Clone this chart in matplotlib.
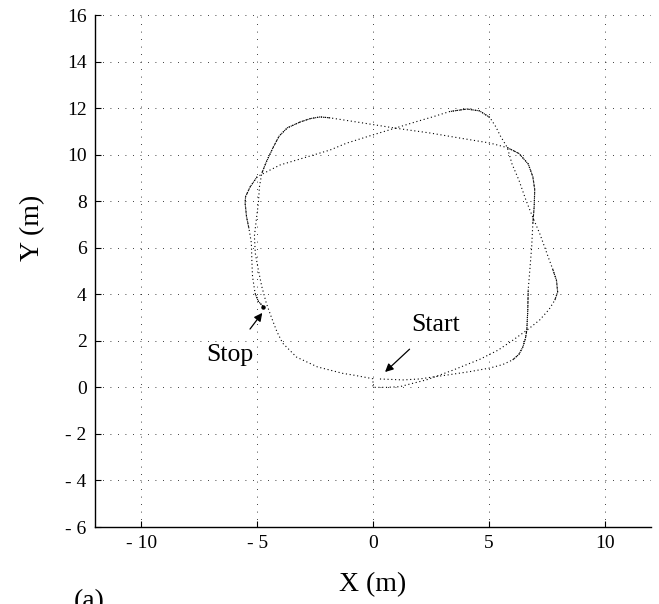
import matplotlib
matplotlib.use("Agg")
import matplotlib.pyplot as plt
import numpy as np

plt.rcParams['font.family'] = ['Liberation Serif', 'DejaVu Serif']

# ---- data: robot trajectory (two laps) ----
lap1_x = [0.3, 1.3, 2.0, 2.76, 3.2, 4.2, 5.04, 5.6, 6.03, 6.3, 6.47, 6.58, 6.64, 6.68, 6.7,
          6.77, 6.85, 6.9, 6.96, 6.98, 6.9, 6.7, 6.3, 5.8, 5.04, 3.7, 2.46, 1.02, -0.43, -1.85,
          -2.28, -2.7, -3.15, -3.7, -4.05, -4.3, -4.6, -4.8, -4.9, -4.95, -5.02, -5.12, -5.08,
          -4.95, -4.8, -4.6, -4.37, -4.15, -3.9, -3.3, -2.4, -1.3, -0.86, 0.0]
lap1_y = [0.36, 0.32, 0.36, 0.47, 0.53, 0.68, 0.83, 0.98, 1.18, 1.42, 1.74, 2.1, 2.47, 3.3, 4.2,
          5.05, 6.05, 7.05, 7.8, 8.5, 9.05, 9.6, 10.05, 10.3, 10.5, 10.72, 10.93, 11.13, 11.36, 11.58,
          11.62, 11.55, 11.4, 11.15, 10.8, 10.33, 9.7, 9.2, 8.63, 7.91, 7.34, 6.5, 5.76,
          5.05, 4.33, 3.6, 2.97, 2.4, 1.9, 1.3, 0.88, 0.6, 0.53, 0.37]

lap2_x = [0.0, 0.59, 1.16, 1.74, 2.3, 2.8, 3.4, 4.6, 5.4, 6.0, 6.7, 7.2, 7.6, 7.85, 7.97, 7.92,
          7.75, 7.6, 7.2, 6.9, 6.6, 6.3, 6.0, 5.8, 5.5, 5.3, 5.04, 4.6, 4.05, 3.3, 2.6, 1.88, 1.16,
          0.0, -1.15, -1.85, -3.29, -4.0, -4.44, -5.0, -5.3, -5.5, -5.52, -5.46, -5.35, -5.25,
          -5.23, -5.2, -5.09, -4.94, -4.73]
lap2_y = [0.0, 0.0, 0.03, 0.18, 0.32, 0.5, 0.72, 1.2, 1.6, 2.0, 2.5, 2.9, 3.35, 3.75, 4.1, 4.6,
          5.1, 5.5, 6.6, 7.3, 8.05, 8.9, 9.6, 10.3, 10.8, 11.2, 11.6, 11.88, 11.96, 11.85, 11.63, 11.42, 11.2,
          10.85, 10.49, 10.2, 9.77, 9.56, 9.34, 9.05, 8.62, 8.2, 7.92, 7.34, 6.8, 6.2,
          5.47, 4.76, 4.04, 3.68, 3.47]

xticks = [-10, -5, 0, 5, 10]
xticklabels = ['- 10', '- 5', '0', '5', '10']
yticks = [-6, -4, -2, 0, 2, 4, 6, 8, 10, 12, 14, 16]
yticklabels = ['- 6', '- 4', '- 2', '0', '2', '4', '6', '8', '10', '12', '14', '16']

start_label = 'Start'
stop_label = 'Stop'

# ---- figure ----
W, H = 659, 604
fig = plt.figure(figsize=(W / 100, H / 100), dpi=100)
ax = fig.add_axes([95 / W, 77 / H, 556 / W, 512 / H])
ax.set_xlim(-12, 12)
ax.set_ylim(-6, 16)

path_x = np.array(lap1_x + lap2_x)
path_y = np.array(lap1_y + lap2_y)
ax.plot(path_x, path_y, color='black', linewidth=0.8,
        linestyle=(0, (1, 2.4)), solid_capstyle='butt', zorder=3)

# slower parts of the run (dots closer together)
n1 = len(lap1_x)
dense = [(8, 15), (17, 24), (29, 38), (n1 + 26, n1 + 30), (n1 + 13, n1 + 17),
         (n1 + 39, n1 + 45), (n1 + 48, n1 + 51)]
for a, b in dense:
    ax.plot(path_x[a:b], path_y[a:b], color='black', linewidth=0.8,
            linestyle=(0, (1, 0.8)), zorder=3)
ax.plot(path_x[-1:], path_y[-1:], 'o', color='black', markersize=2.2, zorder=4)

ax.set_xticks(xticks)
ax.set_xticklabels(xticklabels)
ax.set_yticks(yticks)
ax.set_yticklabels(yticklabels)
ax.tick_params(direction='in', length=4, width=0.8, labelsize=14, pad=6)
ax.grid(True, color='black', linestyle=(0, (1, 8)), linewidth=0.6)
ax.set_axisbelow(True)
for s in ('top', 'right'):
    ax.spines[s].set_visible(False)
for s in ('left', 'bottom'):
    ax.spines[s].set_linewidth(1.0)

ax.annotate(start_label, xy=(0.52, 0.66), xytext=(2.7, 2.68),
            fontsize=18.5, ha='center', va='center',
            arrowprops=dict(arrowstyle='-|>', color='black', lw=0.9,
                            mutation_scale=12, shrinkA=11, shrinkB=0))
ax.annotate(stop_label, xy=(-4.78, 3.2), xytext=(-6.16, 1.39),
            fontsize=18.5, ha='center', va='center',
            arrowprops=dict(arrowstyle='-|>', color='black', lw=0.9,
                            mutation_scale=12, shrinkA=11, shrinkB=0))

fig.text(373 / W, 1 - 585 / H, 'X (m)', fontsize=20, ha='center', va='center')
fig.text(33 / W, 1 - 228 / H, 'Y (m)', fontsize=20, ha='center', va='center', rotation=90)
fig.text(89 / W, 1 - 589 / H, '(a)', fontsize=20, ha='center', va='top')

fig.savefig('out.png', dpi=100)
